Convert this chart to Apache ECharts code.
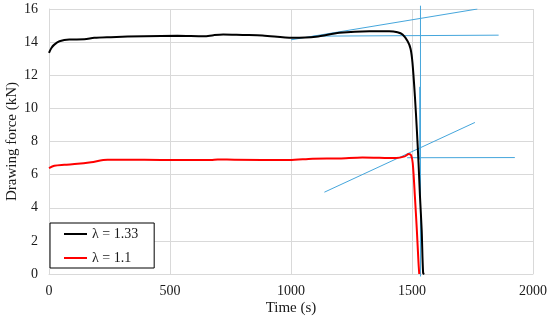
<!DOCTYPE html>
<html>
<head>
<meta charset="utf-8">
<script src="https://cdn.jsdelivr.net/npm/echarts@6/dist/echarts.min.js"></script>
<style>html,body{margin:0;padding:0;background:#fff}#c{width:550px;height:322px}</style>
</head>
<body>
<div id="c"></div>
<script>
// Series names
var seriesNames = ['λ = 1.33', 'λ = 1.1'];

// λ = 1.33 (black)
var blackTime  = [0, 10, 22, 43, 84, 146, 187, 256, 394, 531, 640, 680, 720, 800, 882, 1006, 1103, 1200, 1324, 1406, 1440, 1461, 1482, 1494, 1502, 1512, 1520, 1527, 1533, 1540, 1546, 1551];
var blackForce = [13.35, 13.65, 13.85, 14.05, 14.16, 14.17, 14.26, 14.30, 14.36, 14.38, 14.35, 14.42, 14.46, 14.43, 14.40, 14.26, 14.32, 14.56, 14.66, 14.66, 14.6, 14.46, 14.05, 13.6, 12.75, 10.73, 8.71, 6.7, 4.68, 2.66, 0.05, 0];

// λ = 1.1 (red)
var redTime  = [0, 22, 63, 118, 174, 242, 394, 531, 669, 697, 766, 993, 1089, 1200, 1295, 1434, 1470, 1487, 1496, 1503, 1512, 1520, 1527, 1530];
var redForce = [6.39, 6.53, 6.59, 6.65, 6.75, 6.9, 6.9, 6.88, 6.88, 6.92, 6.90, 6.88, 6.96, 6.98, 7.04, 7.0, 7.1, 7.24, 7.18, 6.7, 4.68, 2.66, 0.65, 0];

// Blue construction lines: [x1, y1, x2, y2]
var tangentUpper   = [1000, 14.14, 1770, 16.0];
var plateauUpper   = [1090, 14.36, 1858, 14.42];
var dropLineMain   = [1535, 16.2, 1535, -0.15];
var dropLineShort  = [1532, 11.3, 1532, 6.9];
var tangentLower   = [1138, 4.94, 1760, 9.15];
var plateauLower   = [1480, 7.02, 1925, 7.03];

// Axis ticks
var xTicks = [0, 500, 1000, 1500, 2000];
var yTicks = [0, 2, 4, 6, 8, 10, 12, 14, 16];

function zip(xs, ys) { return xs.map(function (x, i) { return [x, ys[i]]; }); }
function seg(s) { return [[s[0], s[1]], [s[2], s[3]]]; }

var font = "'Liberation Serif', 'Times New Roman', serif";
var blue = '#45a6dc';
var txt = '#1a1a1a';

function blueSeries(s, clip) {
  return {
    type: 'line', data: seg(s), showSymbol: false, symbol: 'none',
    lineStyle: { color: blue, width: 1 }, clip: clip !== false, silent: true, z: 1
  };
}

var chart = echarts.init(document.getElementById('c'), null, { renderer: 'canvas' });
chart.setOption({
  animation: false,
  backgroundColor: '#fff',
  grid: { left: 49, right: 17, top: 9, bottom: 48, containLabel: false, outerBoundsMode: 'none' },
  xAxis: {
    type: 'value', min: xTicks[0], max: xTicks[xTicks.length - 1], interval: 500,
    name: 'Time (s)', nameLocation: 'middle', nameGap: 27, nameMoveOverlap: false,
    nameTextStyle: { fontFamily: font, fontSize: 15, color: txt },
    axisLine: { show: true, lineStyle: { color: '#d9d9d9' } },
    axisTick: { show: false },
    axisLabel: { fontFamily: font, fontSize: 14, color: txt, margin: 10, formatter: function (v) { return String(v); }, showMinLabel: true, showMaxLabel: true },
    splitLine: { show: true, lineStyle: { color: '#d9d9d9', width: 1 } }
  },
  yAxis: {
    type: 'value', min: yTicks[0], max: yTicks[yTicks.length - 1], interval: 2,
    name: 'Drawing force (kN)', nameLocation: 'middle', nameGap: 29, nameMoveOverlap: false,
    nameTextStyle: { fontFamily: font, fontSize: 15, color: txt },
    axisLine: { show: true, lineStyle: { color: '#d9d9d9' } },
    axisTick: { show: false },
    axisLabel: { fontFamily: font, fontSize: 14, color: txt, margin: 11 },
    splitLine: { show: true, lineStyle: { color: '#d9d9d9', width: 1 } }
  },
  legend: {
    data: seriesNames,
    orient: 'vertical',
    left: 50, top: 223,
    backgroundColor: '#fff',
    borderColor: '#000', borderWidth: 1, borderRadius: 0,
    padding: [4, 16, 3, 14],
    itemGap: 10,
    itemWidth: 23, itemHeight: 2,
    icon: 'rect',
    textStyle: { fontFamily: font, fontSize: 14, color: txt }
  },
  series: [
    blueSeries(tangentUpper),
    blueSeries(plateauUpper),
    blueSeries(dropLineMain, false),
    blueSeries(dropLineShort),
    blueSeries(tangentLower),
    blueSeries(plateauLower),
    {
      name: seriesNames[1], type: 'line', data: zip(redTime, redForce),
      showSymbol: false, symbol: 'none', smooth: 0.3,
      lineStyle: { color: '#ff0000', width: 2 }, itemStyle: { color: '#ff0000' }, z: 3
    },
    {
      name: seriesNames[0], type: 'line', data: zip(blackTime, blackForce),
      showSymbol: false, symbol: 'none', smooth: 0.3,
      lineStyle: { color: '#000000', width: 2 }, itemStyle: { color: '#000000' }, z: 4
    }
  ]
});
</script>
</body>
</html>
